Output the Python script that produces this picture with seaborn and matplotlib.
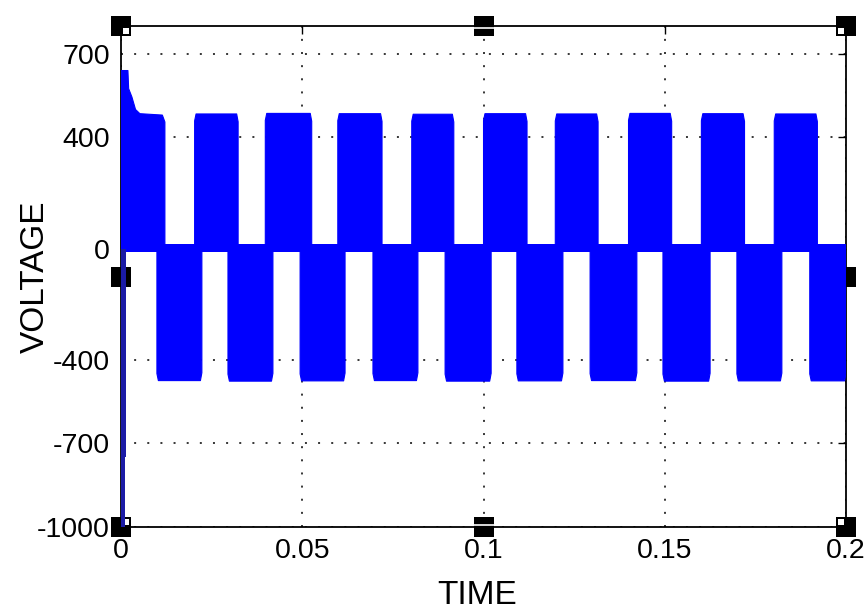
import numpy as np
import pandas as pd
import seaborn as sns
import matplotlib
matplotlib.use("Agg")
import matplotlib.pyplot as plt
from matplotlib.transforms import offset_copy

# axis ticks
x_ticks = [0, 0.05, 0.1, 0.15, 0.2]
x_tick_labels = ["0", "0.05", "0.1", "0.15", "0.2"]
y_ticks = [-1000, -700, -400, 0, 400, 700]
y_tick_labels = ["-1000", "-700", "-400", "0", "400", "700"]
t_range = [0.0, 0.2]
v_range = [-1000, 800]

# start-up transient of the first positive block (envelope)
first_t = [0.0, 0.0019, 0.0021, 0.0030, 0.0040, 0.0052, 0.0114, 0.0121, 0.0121]
first_v = [640, 640, 575, 545, 500, 485, 480, 455, 0]

# remaining positive pulse blocks
pos_start = [0.0203, 0.0398, 0.0598, 0.0802, 0.1000, 0.1198, 0.1400, 0.1601, 0.1802]
pos_end = [0.0323, 0.0526, 0.0720, 0.0918, 0.1120, 0.1316, 0.1519, 0.1720, 0.1921]
pos_level = [484, 486, 485, 483, 485, 484, 486, 485, 484]

# negative pulse blocks
neg_start = [0.0099, 0.0295, 0.0494, 0.0695, 0.0894, 0.1092, 0.1294, 0.1495, 0.1699, 0.1900]
neg_end = [0.0223, 0.0419, 0.0618, 0.0819, 0.1021, 0.1219, 0.1423, 0.1625, 0.1823, 0.2000]
neg_level = [-474, -476, -475, -474, -476, -475, -474, -476, -475, -475]

# zero band (switching between 0 levels) and initial negative spike
zero_band = [-12, 15]
spike_t = [0.0, 0.0015, 0.0015, 0.0010, 0.0010, 0.0]
spike_v = [0, 0, -750, -750, -1000, -1000]

blue = "#0000ff"


def block_outline(s, e, level):
    # pulse block with slightly rounded shoulders
    sign = 1 if level > 0 else -1
    ts = [s, s, s + 0.0004, e - 0.0004, e, e]
    vs = [0, level - sign * 25, level, level, level - sign * 28, 0]
    return ts, vs


rows = []
for t, v in zip([0.0] + first_t, [0] + first_v):
    rows.append({"t": t, "v": v, "block": "p0"})
for i, (s, e, lv) in enumerate(zip(pos_start, pos_end, pos_level)):
    ts, vs = block_outline(s, e, lv)
    rows += [{"t": a, "v": b, "block": f"p{i + 1}"} for a, b in zip(ts, vs)]
for i, (s, e, lv) in enumerate(zip(neg_start, neg_end, neg_level)):
    ts, vs = block_outline(s, e, lv)
    rows += [{"t": a, "v": b, "block": f"n{i}"} for a, b in zip(ts, vs)]
df = pd.DataFrame(rows)

sns.set_style("white")
plt.rcParams["font.family"] = ["Liberation Sans", "DejaVu Sans"]
plt.rcParams["text.color"] = "black"
plt.rcParams["axes.labelcolor"] = "black"

fig = plt.figure(figsize=(8.67, 6.12), dpi=100)
ax = fig.add_axes([0.1396, 0.1389, 0.8362, 0.8186])

# filled pulse blocks
for _, g in df.groupby("block"):
    ax.fill(g["t"], g["v"], color=blue, lw=0, zorder=3)
sns.lineplot(data=df, x="t", y="v", units="block", estimator=None, sort=False,
             color=blue, lw=0.8, legend=False, ax=ax, zorder=3)

ax.fill_between(t_range, zero_band[0], zero_band[1], color=blue, lw=0, zorder=3)
ax.fill(spike_t, spike_v, color="#1b1ba6", lw=0, zorder=3.1)

ax.set_xlim(t_range)
ax.set_ylim(v_range)
ax.set_xticks(x_ticks)
ax.set_xticklabels(x_tick_labels)
ax.set_yticks(y_ticks)
ax.set_yticklabels(y_tick_labels)

ax.set_axisbelow(True)
ax.grid(True, color="black", linestyle=(0, (1.3, 7.3)), linewidth=1.1)
ax.tick_params(direction="in", length=6, width=1, top=True, right=True,
               pad=8, labelsize=20.5, colors="black")
for sp in ax.spines.values():
    sp.set_color("black")
    sp.set_linewidth(1.3)

ax.set_xlabel("TIME", fontsize=24)
ax.set_ylabel("VOLTAGE", fontsize=24)
ax.xaxis.set_label_coords(0.491, -0.106)
ax.yaxis.set_label_coords(-0.097, 0.5)

# MATLAB style selection handles
handle_pos = [(0, 0), (0.5, 0), (1, 0), (0, 0.5), (1, 0.5), (0, 1), (0.5, 1), (1, 1)]
for hx, hy in handle_pos:
    ax.plot(hx, hy, marker="s", ms=14, color="black", mew=0,
            transform=ax.transAxes, clip_on=False, zorder=2.4)
    dx = 3.5 if hx == 0 else (-3.5 if hx == 1 else 0)
    dy = 3.5 if hy == 0 else (-3.5 if hy == 1 else 0)
    tr = offset_copy(ax.transAxes, fig=fig, x=dx, y=dy, units="points")
    if hx != 0.5 and hy != 0.5:
        ax.plot(hx, hy, marker="s", ms=4.5, color="white", mew=0,
                transform=tr, clip_on=False, zorder=2.45)
    elif hx == 0.5:
        ax.plot(hx, hy, marker="_", ms=14, color="white", mew=1.2,
                transform=offset_copy(ax.transAxes, fig=fig, x=0, y=dy / 3, units="points"),
                clip_on=False, zorder=2.45)

fig.savefig("out.png", dpi=100)
